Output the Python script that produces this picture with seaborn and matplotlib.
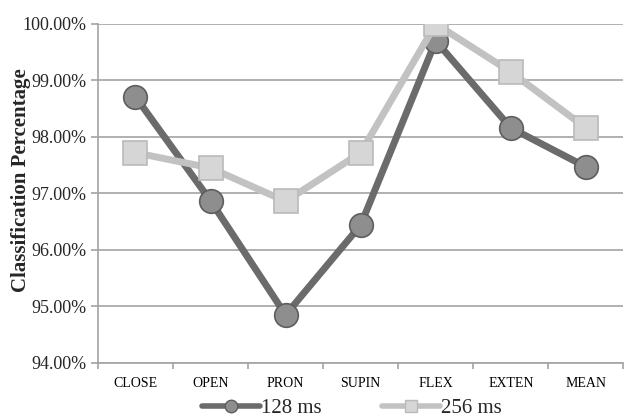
import matplotlib
matplotlib.use("Agg")
import matplotlib.pyplot as plt
import seaborn as sns
import pandas as pd
from matplotlib.ticker import FuncFormatter, FixedLocator
from matplotlib.lines import Line2D

categories = ["CLOSE", "OPEN", "PRON", "SUPIN", "FLEX", "EXTEN", "MEAN"]
vals_128 = [98.71, 96.87, 94.85, 96.44, 99.70, 98.16, 97.47]
vals_256 = [97.72, 97.45, 96.86, 97.72, 100.00, 99.15, 98.16]
series_names = ["128 ms", "256 ms"]

sns.set_theme(style="white")
plt.rcParams["font.family"] = ["Liberation Serif", "DejaVu Serif"]

fig = plt.figure(figsize=(6.24, 4.2), dpi=100)
ax = fig.add_axes([0.157, 0.136, 0.842, 0.807])

df = pd.DataFrame({
    "cat": categories * 2,
    "val": vals_128 + vals_256,
    "series": [series_names[0]] * len(categories) + [series_names[1]] * len(categories),
})

line_cols = {"128 ms": "#6b6b6b", "256 ms": "#c2c2c2"}
face_cols = {"128 ms": "#8e8e8e", "256 ms": "#d6d6d6"}
edge_cols = {"128 ms": "#5e5e5e", "256 ms": "#bababa"}
mk = {"128 ms": "o", "256 ms": "s"}
msz = {"128 ms": 17, "256 ms": 17}

for i, s in enumerate(series_names):
    sub = df[df["series"] == s]
    sns.lineplot(data=sub, x="cat", y="val", ax=ax, color=line_cols[s],
                 linewidth=5, marker=mk[s], markersize=msz[s],
                 markerfacecolor=face_cols[s], markeredgecolor=edge_cols[s],
                 markeredgewidth=1.2, legend=False, zorder=3 + i, sort=False)

ax.set_xlim(-0.5, len(categories) - 0.5)
ax.set_ylim(94, 100)
ax.set_yticks([94, 95, 96, 97, 98, 99, 100])
ax.yaxis.set_major_formatter(FuncFormatter(lambda v, p: f"{v:.2f}%"))
ax.grid(axis="y", color="#a3a3a3", linewidth=1.2)
ax.set_axisbelow(True)

ax.set_xticks(range(len(categories)))
ax.set_xticklabels(categories, fontsize=10)
ax.xaxis.set_minor_locator(FixedLocator([i - 0.5 for i in range(len(categories) + 1)]))
ax.tick_params(axis="x", which="major", length=0, pad=10, colors="black")
ax.tick_params(axis="x", which="minor", length=4, width=1.2, color="#a3a3a3", bottom=True)
ax.tick_params(axis="y", which="major", length=5, width=1.2, color="#a3a3a3", left=True, labelsize=13, pad=3)

for sp in ["top", "right"]:
    ax.spines[sp].set_visible(False)
for sp in ["left", "bottom"]:
    ax.spines[sp].set_color("#a3a3a3")
    ax.spines[sp].set_linewidth(1.2)

ax.set_xlabel("")
ax.set_ylabel("Classification Percentage", fontsize=15, fontweight="bold", labelpad=4)
ax.yaxis.set_label_coords(-0.127, 0.538)

handles = [
    Line2D([0], [0], color=line_cols[s], linewidth=4, marker=mk[s], markersize=9,
           markerfacecolor=face_cols[s], markeredgecolor=edge_cols[s], markeredgewidth=1)
    for s in series_names
]
fig.legend(handles, series_names, loc="center", ncol=2, frameon=False,
           bbox_to_anchor=(0.564, 0.028), fontsize=15, handlelength=2.8,
           handletextpad=0.05, columnspacing=2.9, borderpad=0, borderaxespad=0)

fig.savefig("out.png", dpi=100)
